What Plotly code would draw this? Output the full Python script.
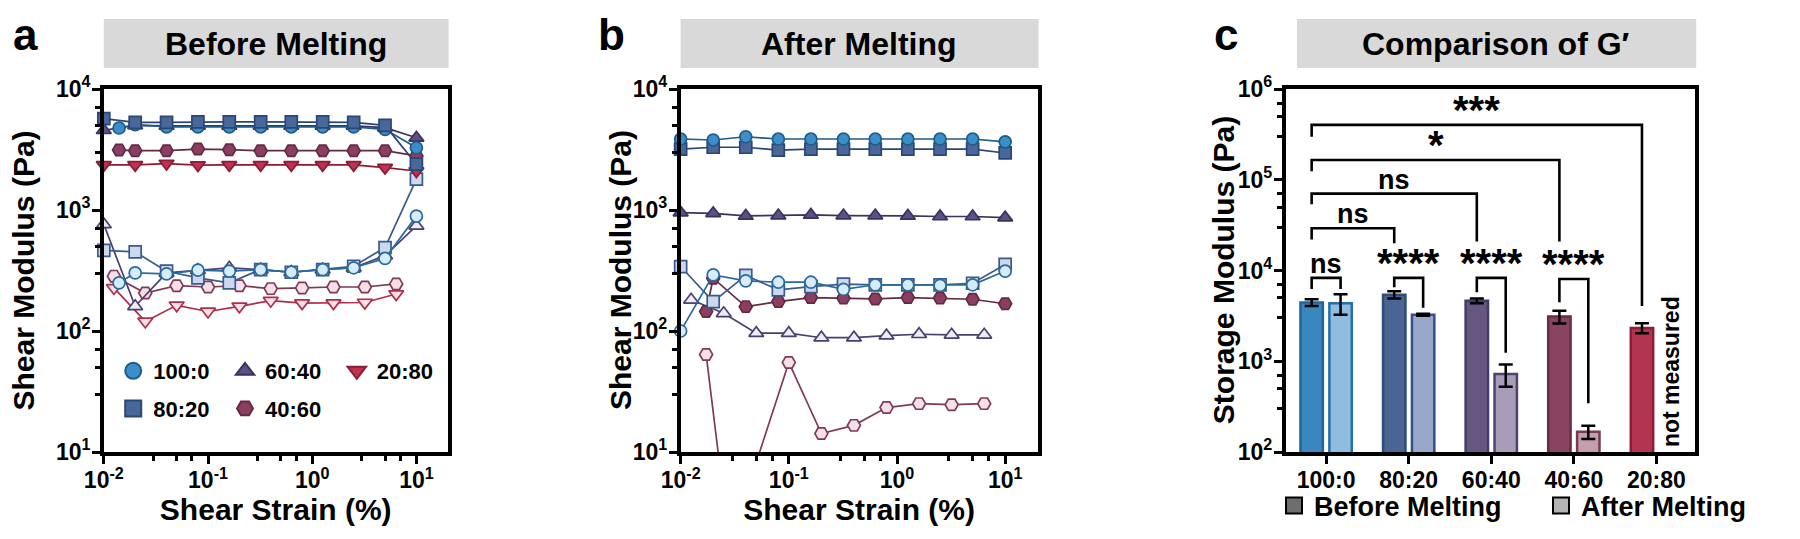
import math
import plotly.graph_objects as go

FONT = "Liberation Sans, Arial, Helvetica, sans-serif"

# ------------------------------------------------------------------ data
SAMPLES = ["100:0", "80:20", "60:40", "40:60", "20:80"]

# strain grids (%)
STRAIN = [0.01, 0.02, 0.04, 0.08, 0.16, 0.32, 0.63, 1.26, 2.5, 5.0, 10.0]
STRAIN_B = [0.014, 0.02, 0.04, 0.08, 0.16, 0.32, 0.63, 1.26, 2.5, 5.0, 10.0]
STRAIN_C = [0.0125, 0.025, 0.05, 0.1, 0.2, 0.4, 0.8, 1.6, 3.2, 6.4]
STRAIN_D = [0.0172, 0.02, 0.04, 0.08, 0.16, 0.32, 0.63, 1.26, 2.5, 5.0, 10.0]
STRAIN_E = [0.0172, 0.025, 0.05, 0.1, 0.2, 0.4, 0.8, 1.6, 3.2, 6.4]

# (a) before melting: G' (storage, filled) and G'' (loss, open), Pa
A_G1_100 = [4760, 5080, 4860, 4860, 4860, 4860, 4860, 4860, 4860, 4640, 3270]
A_G2_100 = [250, 302, 296, 318, 312, 322, 306, 322, 333, 398, 890]
A_G1_80 = [5700, 5300, 5300, 5350, 5350, 5350, 5350, 5350, 5300, 5000, 2390]
A_G2_80 = [464, 450, 312, 275, 250, 322, 306, 322, 343, 489, 1800]
A_G1_60 = [4560, 5000, 4950, 4950, 4950, 4950, 4950, 4950, 4950, 4800, 3950]
A_G2_60 = [760, 160, 302, 318, 333, 322, 306, 322, 333, 420, 740]
A_G1_40 = [3130, 3090, 3090, 3190, 3150, 3090, 3090, 3090, 3090, 3090, 2800]
A_G2_40 = [284, 206, 237, 231, 237, 224, 227, 231, 231, 245]
A_G1_20 = [2360, 2360, 2420, 2350, 2360, 2360, 2360, 2360, 2360, 2240, 2100]
A_G2_20 = [227, 120, 163, 145, 160, 178, 170, 170, 172, 202]

# (b) after melting
B_G1_100 = [3860, 3790, 4030, 3860, 3860, 3860, 3860, 3860, 3860, 3860, 3660]
B_G2_100 = [100, 291, 260, 253, 253, 221, 241, 241, 238, 241, 313]
B_G1_80 = [3190, 3300, 3300, 3130, 3190, 3190, 3190, 3190, 3190, 3190, 2960]
B_G2_80 = [341, 175, 288, 219, 233, 244, 241, 241, 241, 248, 355]
B_G1_60 = [951, 939, 893, 900, 910, 900, 900, 893, 884, 884, 865]
B_G2_60 = [181, 140, 96, 96, 88, 88, 91.5, 94, 93, 93]
B_G1_40 = [145, 273, 159, 175, 189, 187, 184, 189, 187, 183, 168]
B_G2_40 = [64, 4.2, 8.2, 55, 14.2, 16.6, 23.3, 25.1, 24.6, 25.1]

# (c) comparison of G' (mean, SD), Pa
G_BEFORE = [4450, 5410, 4640, 3110, 2330]
G_BEFORE_SD = [380, 510, 275, 500, 300]
G_AFTER = [4370, 3250, 722, 167, None]
G_AFTER_SD = [1120, 80, 200, 28, 0]

# significance: before vs after of the same sample
PAIR_SIG = ["ns", "****", "****", "****"]
PAIR_BAR = [8300, 8300, 8300, 8070]
PAIR_LEG_L = [6250, 6530, 5750, 4470]
PAIR_LEG_R = [6250, 3890, 1240, 344]
# significance: 100:0 before vs other samples before
CROSS_SIG = ["ns", "ns", "*", "***"]
CROSS_BAR = [29200, 70300, 165000, 402000]
CROSS_LEG_L = [21900, 53700, 124000, 297000]
CROSS_LEG_R = [20000, 20900, 20900, 4050]

# axis ticks
X_TICKS = [0.01, 0.1, 1, 10]
X_TICK_TEXT = ["10<sup>-2</sup>", "10<sup>-1</sup>", "10<sup>0</sup>", "10<sup>1</sup>"]
Y_TICKS_AB = [10, 100, 1000, 10000]
Y_TICK_TEXT_AB = ["10<sup>1</sup>", "10<sup>2</sup>", "10<sup>3</sup>", "10<sup>4</sup>"]
Y_TICKS_C = [1e2, 1e3, 1e4, 1e5, 1e6]
Y_TICK_TEXT_C = ["10<sup>2</sup>", "10<sup>3</sup>", "10<sup>4</sup>", "10<sup>5</sup>", "10<sup>6</sup>"]
MINOR_X = [0.03, 0.05, 0.07, 0.3, 0.5, 0.7, 3, 5, 7]
MINOR_Y_AB = [30, 50, 70, 300, 500, 700, 3000, 5000, 7000]
MINOR_Y_C = [300, 500, 700, 3000, 5000, 7000, 3e4, 5e4, 7e4, 3e5, 5e5, 7e5]

# ------------------------------------------------------------------ styles
STYLE = {
    "100:0": dict(symbol="circle", size=12, fill="#3b8ec8", edge="#1d5b8a", light="#d6ecf8", ledge="#2b6a9c"),
    "80:20": dict(symbol="square", size=12, fill="#4a6799", edge="#2a4677", light="#ccd8ec", ledge="#3a5a8e"),
    "60:40": dict(symbol="triangle-up", size=13, fill="#5d5083", edge="#3b3262", light="#eeebf4", ledge="#4a3f70"),
    "40:60": dict(symbol="hexagon2", size=13, fill="#8b3f60", edge="#632a43", light="#f7dfe8", ledge="#7e3a57"),
    "20:80": dict(symbol="triangle-down", size=13, fill="#be3352", edge="#8c1c36", light="#fbe0e6", ledge="#b02d4b"),
}
BAR_BEFORE = ["#3a86bf", "#4a6594", "#65577f", "#8a4462", "#b3344f"]
BAR_BEFORE_EDGE = ["#1f66a0", "#2f4a7c", "#463a66", "#6a2b46", "#8e1c36"]
BAR_AFTER = ["#8fbde0", "#97a8c8", "#a99cb8", "#c39eab", "#ffffff"]
BAR_AFTER_EDGE = ["#2470aa", "#34508a", "#4f4270", "#773a55", "#ffffff"]

fig = go.Figure()


def add_series(xa, ya, sample, x, y, kind, clip=False):
    st = STYLE[sample]
    fill, edge = (st["fill"], st["edge"]) if kind == 1 else (st["light"], st["ledge"])
    fig.add_trace(go.Scatter(
        x=x, y=y, xaxis=xa, yaxis=ya, mode="lines+markers", showlegend=False,
        name=sample, line=dict(color=edge, width=1.7),
        marker=dict(symbol=st["symbol"], size=st["size"], color=fill,
                    line=dict(color=edge, width=1.7)),
        cliponaxis=clip))


# panel a
add_series("x", "y", "40:60", STRAIN_C, A_G2_40, 2)
add_series("x", "y", "20:80", STRAIN_C, A_G2_20, 2)
add_series("x", "y", "60:40", STRAIN, A_G2_60, 2)
add_series("x", "y", "80:20", STRAIN, A_G2_80, 2)
add_series("x", "y", "100:0", STRAIN_B, A_G2_100, 2)
add_series("x", "y", "20:80", STRAIN, A_G1_20, 1)
add_series("x", "y", "40:60", STRAIN_B, A_G1_40, 1)
add_series("x", "y", "60:40", STRAIN, A_G1_60, 1)
add_series("x", "y", "100:0", STRAIN_B, A_G1_100, 1)
add_series("x", "y", "80:20", STRAIN, A_G1_80, 1)

# panel b
add_series("x2", "y2", "40:60", STRAIN_E, B_G2_40, 2, clip=True)
add_series("x2", "y2", "60:40", STRAIN_C, B_G2_60, 2)
add_series("x2", "y2", "40:60", STRAIN_D, B_G1_40, 1)
add_series("x2", "y2", "80:20", STRAIN, B_G2_80, 2)
add_series("x2", "y2", "100:0", STRAIN, B_G2_100, 2)
add_series("x2", "y2", "60:40", STRAIN, B_G1_60, 1)
add_series("x2", "y2", "80:20", STRAIN, B_G1_80, 1)
add_series("x2", "y2", "100:0", STRAIN, B_G1_100, 1)

# legend entries for panel a: three column legends
LEG_COLUMN = {"100:0": "legend", "80:20": "legend", "60:40": "legend3", "40:60": "legend3", "20:80": "legend4"}
for s in SAMPLES:
    st = STYLE[s]
    fig.add_trace(go.Scatter(
        x=[None], y=[None], xaxis="x", yaxis="y", mode="markers", name=s,
        legend=LEG_COLUMN[s], legendgroup=s,
        marker=dict(symbol=st["symbol"], size=16, color=st["fill"],
                    line=dict(color=st["edge"], width=2))))

# panel c bars
cat_x = list(range(len(SAMPLES)))
fig.add_trace(go.Bar(
    x=cat_x, y=G_BEFORE, xaxis="x3", yaxis="y3", showlegend=False, name="Before Melting",
    marker=dict(color=BAR_BEFORE, line=dict(color=BAR_BEFORE_EDGE, width=2.5)),
    error_y=dict(type="data", array=G_BEFORE_SD, color="black", thickness=2.5, width=7)))
fig.add_trace(go.Bar(
    x=cat_x, y=G_AFTER, xaxis="x3", yaxis="y3", showlegend=False, name="After Melting",
    marker=dict(color=BAR_AFTER, line=dict(color=BAR_AFTER_EDGE, width=2.5)),
    error_y=dict(type="data", array=G_AFTER_SD, color="black", thickness=2.5, width=7)))

# legend for panel c
fig.add_trace(go.Scatter(x=[None], y=[None], xaxis="x3", yaxis="y3", mode="markers",
                         name="Before Melting", legend="legend2",
                         marker=dict(symbol="square", size=16, color="#6e6e6e",
                                     line=dict(color="black", width=2))))
fig.add_trace(go.Scatter(x=[None], y=[None], xaxis="x3", yaxis="y3", mode="markers",
                         name="After Melting", legend="legend2",
                         marker=dict(symbol="square", size=16, color="#b4b4b4",
                                     line=dict(color="black", width=2))))

# significance brackets
OFF = 0.175  # half distance between grouped bar centres
bx, by = [], []
annotations = []


def sig_annotation(xm, yv, label):
    is_ns = label == "ns"
    annotations.append(dict(
        x=xm, y=math.log10(yv), xref="x3", yref="y3", text=label, showarrow=False,
        yanchor="middle", xanchor="center", yshift=14 if is_ns else 15,
        font=dict(family=FONT, size=27 if is_ns else 40, color="black", weight="bold")))


for i, (lab, yb, yl, yr) in enumerate(zip(PAIR_SIG, PAIR_BAR, PAIR_LEG_L, PAIR_LEG_R)):
    x1, x2 = i - OFF, i + OFF
    bx += [x1, x1, x2, x2, None]
    by += [yl, yb, yb, yr, None]
    sig_annotation(i, yb, lab)
for j, (lab, yb, yl, yr) in enumerate(zip(CROSS_SIG, CROSS_BAR, CROSS_LEG_L, CROSS_LEG_R)):
    x1, x2 = 0 - OFF, (j + 1) - OFF
    bx += [x1, x1, x2, x2, None]
    by += [yl, yb, yb, yr, None]
    sig_annotation((x1 + x2) / 2, yb, lab)
fig.add_trace(go.Scatter(x=bx, y=by, xaxis="x3", yaxis="y3", mode="lines", showlegend=False,
                         line=dict(color="black", width=2.6), hoverinfo="skip"))

annotations.append(dict(
    x=4 + OFF, y=2.89, xref="x3", yref="y3", text="not measured", textangle=-90,
    showarrow=False, xanchor="center", yanchor="middle",
    font=dict(family=FONT, size=23, color="black", weight="bold")))

# ------------------------------------------------------------------ layout
W, H = 1800, 539


def px(v):
    return v / W


def py(v):
    return 1 - v / H


BOX_TOP, BOX_BOTTOM = 81, 444
Y_DOM = [py(BOX_BOTTOM), py(BOX_TOP)]
PANELS = [
    dict(x0=102, x1=468, hx0=102, head="Before Melting", letter="a", lx=19,
         ytitle="Shear Modulus (Pa)", tx=17),
    dict(x0=716, x1=1096, hx0=716, head="After Melting", letter="b", lx=642,
         ytitle="Shear Modulus (Pa)", tx=652),
    dict(x0=1360, x1=1796, hx0=1372, head="Comparison of G\u2032", letter="c", lx=1296,
         ytitle="Storage Modulus (Pa)", tx=1294),
]

tickfont = dict(family=FONT, size=23, color="black", weight="bold")
titlefont = dict(family=FONT, size=30, color="black", weight="bold")
axis_base = dict(showline=True, linecolor="black", linewidth=3.5, mirror=True,
                 ticks="outside", ticklen=8, tickwidth=3, tickcolor="black",
                 ticklabelstandoff=-3,
                 showgrid=False, zeroline=False, tickfont=tickfont, automargin=False)
minor_base = dict(ticks="outside", ticklen=5, tickwidth=2.5, tickcolor="black", showgrid=False)

shapes = []
for p in PANELS:
    shapes.append(dict(type="rect", xref="paper", yref="paper", x0=px(p["hx0"]), x1=px(p["x1"] + 1),
                       y0=py(60), y1=py(11), fillcolor="#d9d9d9", line=dict(width=0), layer="below"))
    annotations.append(dict(x=px((p["hx0"] + p["x1"]) / 2), y=py(36), xref="paper", yref="paper",
                            text=p["head"], showarrow=False, xanchor="center", yanchor="middle",
                            font=dict(family=FONT, size=32, color="black", weight="bold")))
    annotations.append(dict(x=px(p["lx"]), y=1, xref="paper", yref="paper",
                            text=p["letter"], showarrow=False, xanchor="center", yanchor="top",
                            font=dict(family=FONT, size=44, color="black", weight="bold")))
    annotations.append(dict(x=px(p["tx"]), y=py((BOX_TOP + BOX_BOTTOM) / 2), xref="paper", yref="paper",
                            text=p["ytitle"], textangle=-90, showarrow=False,
                            xanchor="center", yanchor="middle", font=titlefont))

legend_common = dict(orientation="v", yanchor="top", xanchor="left", itemsizing="trace",
                     tracegroupgap=6, bgcolor="rgba(0,0,0,0)",
                     font=dict(family=FONT, size=22, color="black", weight="bold"))
layout = dict(
    width=W, height=H, margin=dict(l=0, r=0, t=0, b=0),
    paper_bgcolor="white", plot_bgcolor="white",
    barmode="group", bargap=0.30, bargroupgap=0.225,
    shapes=shapes, annotations=annotations,
    legend=dict(legend_common, x=px(112), y=py(342)),
    legend3=dict(legend_common, x=px(231), y=py(342)),
    legend4=dict(legend_common, x=px(350), y=py(342)),
    legend2=dict(orientation="h", x=px(1348), y=py(498), xanchor="left", yanchor="middle",
                 entrywidth=222, entrywidthmode="pixels", itemsizing="trace",
                 bgcolor="rgba(0,0,0,0)", font=dict(family=FONT, size=27, color="black", weight="bold")),
)

for k, p in enumerate(PANELS):
    sx = "" if k == 0 else str(k + 1)
    xd = [px(p["x0"]), px(p["x1"])]
    if k < 2:
        layout["xaxis" + sx] = dict(axis_base, domain=xd, anchor="y" + sx, type="log", range=[-2, 1.3],
                                    tickvals=X_TICKS, ticktext=X_TICK_TEXT,
                                    minor=dict(minor_base, tickvals=MINOR_X),
                                    title=dict(text="Shear Strain (%)", font=titlefont, standoff=5))
        layout["yaxis" + sx] = dict(axis_base, domain=Y_DOM, anchor="x" + sx, type="log", range=[1, 4],
                                    tickvals=Y_TICKS_AB, ticktext=Y_TICK_TEXT_AB,
                                    minor=dict(minor_base, tickvals=MINOR_Y_AB))
    else:
        layout["xaxis" + sx] = dict(axis_base, domain=xd, anchor="y" + sx, range=[-0.49, 4.47],
                                    tickvals=cat_x, ticktext=SAMPLES)
        layout["yaxis" + sx] = dict(axis_base, domain=Y_DOM, anchor="x" + sx, type="log", range=[2, 6],
                                    tickvals=Y_TICKS_C, ticktext=Y_TICK_TEXT_C,
                                    minor=dict(minor_base, tickvals=MINOR_Y_C))

fig.update_layout(**layout)
fig.write_html("out.html")
